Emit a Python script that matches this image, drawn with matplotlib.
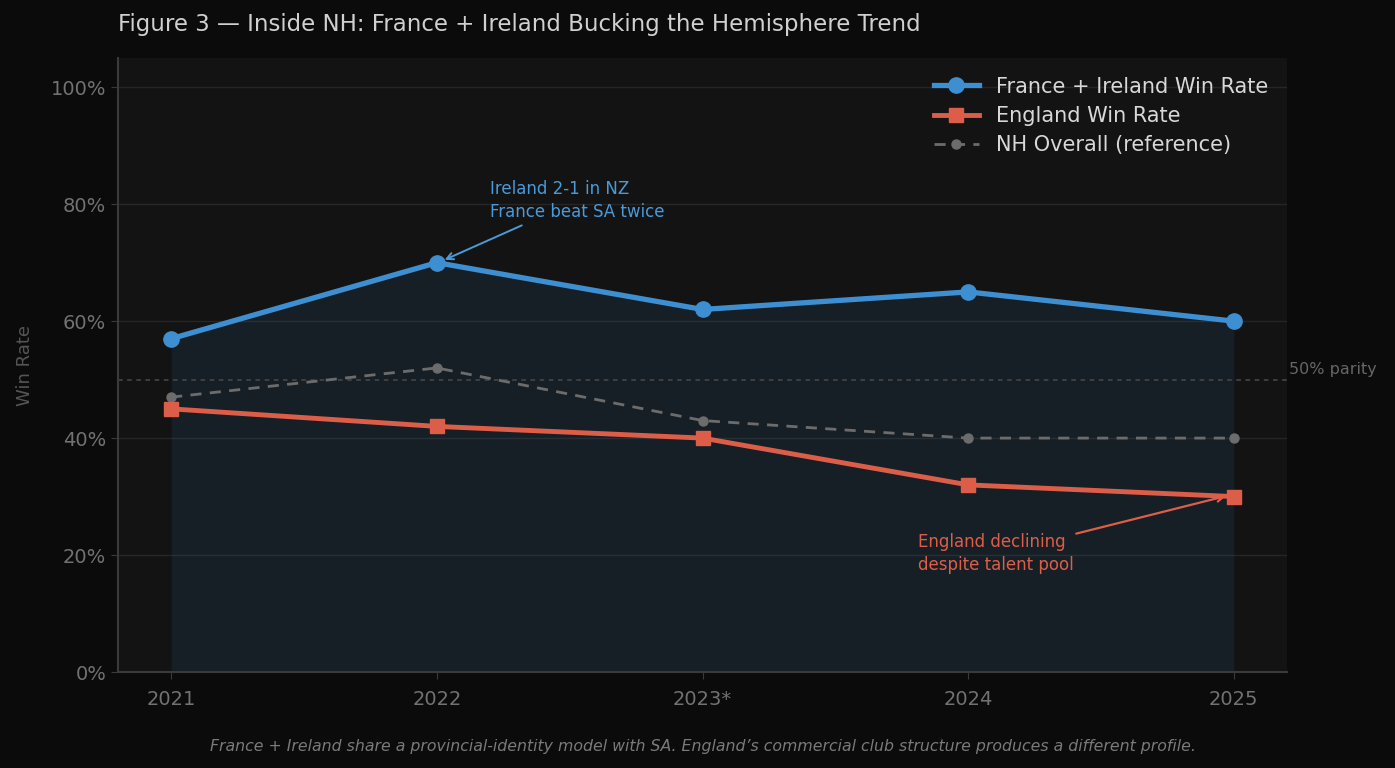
import matplotlib.pyplot as plt

# dati
years = ["2021", "2022", "2023*", "2024", "2025"]
fr_ire = [57, 70, 62, 65, 60]
england = [45, 42, 40, 32, 30]
nh_overall = [47, 52, 43, 40, 40]
y_ticks = [0, 20, 40, 60, 80, 100]

BLUE = "#3d8fd1"
RED = "#dd5e48"
GREY = "#6c6c6c"

fig = plt.figure(figsize=(13.95, 7.68), dpi=100, facecolor="#0b0b0b")
ax = fig.add_axes([118 / 1395, 1 - 672 / 768, (1287 - 118) / 1395, (672 - 58) / 768])
ax.set_facecolor("#131313")

x = list(range(len(years)))

ax.fill_between(x, 0, fr_ire, color=BLUE, alpha=0.10, lw=0, zorder=1)
ax.axhline(50, color="#4a4a4a", ls=(0, (3, 3)), lw=1.1, zorder=1)
ax.text(1.002, 50 / 105 + 0.005, "50% parity", transform=ax.transAxes,
        color="#666666", fontsize=11.5, va="bottom", ha="left")

ax.plot(x, fr_ire, color=BLUE, lw=3.8, marker="o", ms=11, label="France + Ireland Win Rate", zorder=4)
ax.plot(x, england, color=RED, lw=3.5, marker="s", ms=9.5, label="England Win Rate", zorder=4)
ax.plot(x, nh_overall, color=GREY, lw=2, ls=(0, (4, 3)), marker="o", ms=6.5,
        label="NH Overall (reference)", zorder=3)

ax.annotate("Ireland 2-1 in NZ\nFrance beat SA twice", xy=(1.02, 70.3), xytext=(1.2, 80.6),
            color="#4a9ad8", fontsize=12, ha="left", va="center", linespacing=1.4,
            arrowprops=dict(arrowstyle="->", color="#4a9ad8", lw=1.4))
ax.annotate("England declining\ndespite talent pool", xy=(3.98, 30.2), xytext=(2.81, 20.2),
            color=RED, fontsize=12, ha="left", va="center", linespacing=1.35,
            arrowprops=dict(arrowstyle="->", color=RED, lw=1.6, shrinkA=0))

ax.set_xlim(-0.2, 4.2)
ax.set_ylim(0, 105)
ax.set_xticks(x)
ax.set_xticklabels(years)
ax.set_yticks(y_ticks)
ax.set_yticklabels([f"{v}%" for v in y_ticks])
ax.tick_params(colors="#3a3a3a", labelcolor="#727272", labelsize=14, length=5)
ax.tick_params(axis="x", pad=8)
ax.grid(axis="y", color="#262626", lw=1)
ax.set_axisbelow(True)
for side in ["top", "right"]:
    ax.spines[side].set_visible(False)
for side in ["left", "bottom"]:
    ax.spines[side].set_color("#3a3a3a")
    ax.spines[side].set_linewidth(1.5)

ax.set_ylabel("Win Rate", color="#555555", fontsize=13, labelpad=12)

leg = ax.legend(loc="upper right", frameon=False, fontsize=15, labelcolor="#d8d8d8",
                handlelength=2.2, bbox_to_anchor=(1.0, 1.0), labelspacing=0.45)

fig.text(118 / 1395, 1 - 24 / 768, "Figure 3 — Inside NH: France + Ireland Bucking the Hemisphere Trend",
         color="#d0d0d0", fontsize=16.5, ha="left", va="center")
fig.text(703 / 1395, 1 - 747 / 768,
         "France + Ireland share a provincial-identity model with SA. England’s commercial club structure produces a different profile.",
         color="#7a7a7a", fontsize=11.3, style="italic", ha="center", va="center")

fig.savefig("out.png", dpi=100, facecolor=fig.get_facecolor())
